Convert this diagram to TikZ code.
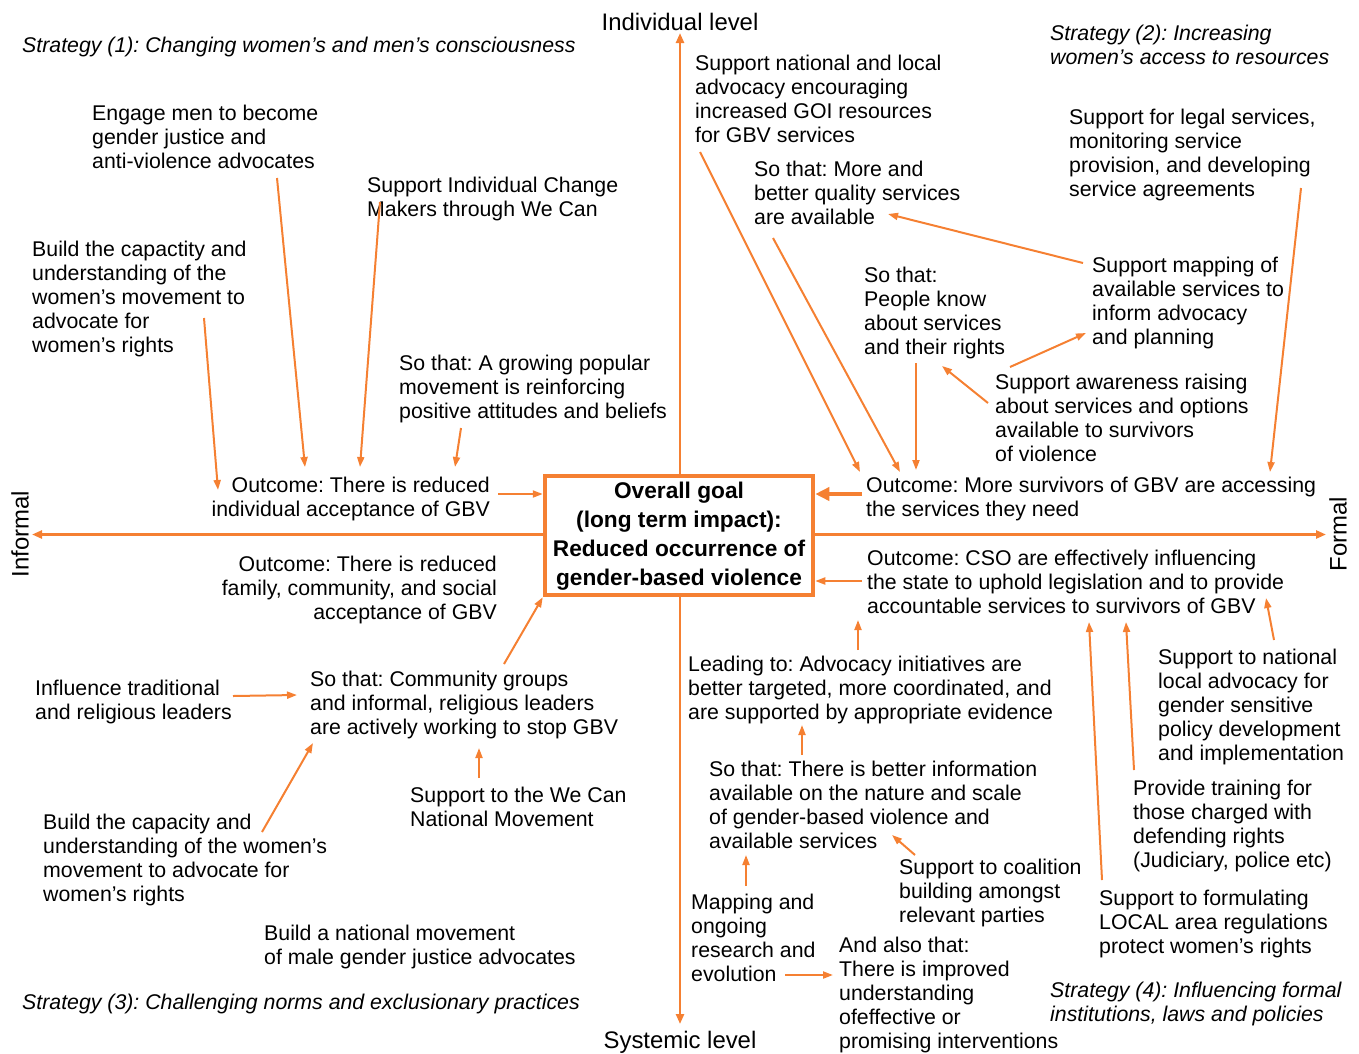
\documentclass[tikz,border=0pt]{standalone}
\usepackage{fontspec}
\setmainfont{Liberation Sans}
\usetikzlibrary{arrows.meta,calc}
\definecolor{org}{RGB}{245,128,50}
\tikzset{
  txt/.style={anchor=north west, align=left, inner sep=0pt, font=\fontsize{21.3}{24}\selectfont\frenchspacing},
  txtr/.style={anchor=north east, align=right, inner sep=0pt, font=\fontsize{21.3}{24}\selectfont\frenchspacing},
  strat/.style={anchor=north west, align=left, inner sep=0pt, font=\fontsize{21.3}{24}\selectfont\itshape\frenchspacing},
  axlab/.style={inner sep=0pt, font=\fontsize{23.9}{26}\selectfont},
  arr/.style={draw=org, line width=2pt, -{Triangle[length=10pt,width=7pt]}},
  bigarr/.style={draw=org, line width=4.5pt, -{Triangle[length=14pt,width=13pt]}},
  axis/.style={draw=org, line width=2.4pt, {Triangle[length=10pt,width=8pt]}-{Triangle[length=10pt,width=8pt]}},
  goalbox/.style={draw=org, fill=white, line width=4.5pt, minimum width=268pt, minimum height=119pt, align=center, inner sep=0pt, font=\fontsize{22.7}{29}\selectfont\bfseries},
}
\begin{document}
\frenchspacing
\begin{tikzpicture}[x=1pt,y=-1pt]
\path[use as bounding box] (0,0) rectangle (1359,1053);

% axes
\coordinate (axtop) at (680,33);
\coordinate (axbot) at (680,1024);
\coordinate (axleft) at (32,534.5);
\coordinate (axright) at (1326,534.5);
\draw[axis] (axbot) -- (axtop);
\draw[axis] (axleft) -- (axright);
\node[axlab] (ind) at (680,22) {Individual level};
\node[axlab] (sys) at (680,1042) {Systemic level};
\node[axlab, rotate=90] (informal) at (20,534) {Informal};
\node[axlab, rotate=90] (formal) at (1338,534) {Formal};

% central goal
\node[goalbox] (goal) at (679,535.5) {\rule{0pt}{18pt}Overall goal\\(long term impact):\\Reduced occurrence of\\gender-based violence};

% strategy labels
\node[strat] (s1) at (22,37) {Strategy (1): Changing women’s and men’s consciousness};
\node[strat] (s2) at (1050,25) {Strategy (2): Increasing\\women’s access to resources};
\node[strat] (s3) at (22,994) {Strategy (3): Challenging norms and exclusionary practices};
\node[strat] (s4) at (1050,982) {Strategy (4): Influencing formal\\institutions, laws and policies};

% quadrant 1 (top left)
\node[txt] (engage) at (92,105) {Engage men to become\\gender justice and\\anti-violence advocates};
\node[txt] (sic) at (367,177) {Support Individual Change\\Makers through We Can};
\node[txt] (build1) at (32,241) {Build the capactity and\\understanding of the\\women’s movement to\\advocate for\\women’s rights};
\node[txt] (sothat1) at (399,355) {So that: A growing popular\\movement is reinforcing\\positive attitudes and beliefs};
\node[txtr] (out1) at (490,477) {Outcome: There is reduced\\individual acceptance of GBV};

% quadrant 3 (bottom left)
\node[txtr] (out2) at (497,556) {Outcome: There is reduced\\family, community, and social\\acceptance of GBV};
\node[txt] (influence) at (35,680) {Influence traditional\\and religious leaders};
\node[txt] (sothat2) at (310,671) {So that: Community groups\\and informal, religious leaders\\are actively working to stop GBV};
\node[txt] (wecan) at (410,787) {Support to the We Can\\National Movement};
\node[txt] (build2) at (43,814) {Build the capacity and\\understanding of the women’s\\movement to advocate for\\women’s rights};
\node[txt] (natmov) at (264,925) {Build a national movement\\of male gender justice advocates};

% quadrant 2 (top right)
\node[txt] (snl) at (695,55) {Support national and local\\advocacy encouraging\\increased GOI resources\\for GBV services};
\node[txt] (legal) at (1069,109) {Support for legal services,\\monitoring service\\provision, and developing\\service agreements};
\node[txt] (sothat3) at (754,161) {So that: More and\\better quality services\\are available};
\node[txt] (mapping) at (1092,257) {Support mapping of\\available services to\\inform advocacy\\and planning};
\node[txt] (sothat4) at (864,267) {So that:\\People know\\about services\\and their rights};
\node[txt] (awareness) at (995,374) {Support awareness raising\\about services and options\\available to survivors\\of violence};
\node[txt] (out3) at (866,477) {Outcome: More survivors of GBV are accessing\\the services they need};

% quadrant 4 (bottom right)
\node[txt] (out4) at (867,550) {Outcome: CSO are effectively influencing\\the state to uphold legislation and to provide\\accountable services to survivors of GBV};
\node[txt] (natloc) at (1158,649) {Support to national\\local advocacy for\\gender sensitive\\policy development\\and implementation};
\node[txt] (leading) at (688,656) {Leading to: Advocacy initiatives are\\better targeted, more coordinated, and\\are supported by appropriate evidence};
\node[txt] (training) at (1133,780) {Provide training for\\those charged with\\defending rights\\(Judiciary, police etc)};
\node[txt] (sothat5) at (709,761) {So that: There is better information\\available on the nature and scale\\of gender-based violence and\\available services};
\node[txt] (coalition) at (899,859) {Support to coalition\\building amongst\\relevant parties};
\node[txt] (formulating) at (1099,890) {Support to formulating\\LOCAL area regulations\\protect women’s rights};
\node[txt] (mapres) at (691,894) {Mapping and\\ongoing\\research and\\evolution};
\node[txt] (alsothat) at (839,937) {And also that:\\There is improved\\understanding\\ofeffective or\\promising interventions};

% connectors, quadrant 1
\draw[arr] ($(engage.north west)+(185,73)$) -- ($(out1.north east)+(-185,-10)$);
\draw[arr] ($(sic.north west)+(13,25)$) -- ($(out1.north east)+(-130,-10)$);
\draw[arr] ($(build1.north west)+(172,77)$) -- ($(out1.north east)+(-272,13)$);
\draw[arr] ($(sothat1.north west)+(62,73)$) -- ($(out1.north east)+(-35,-10)$);
\draw[arr] ($(out1.north east)+(8,17)$) -- ($(goal.west)+(0,-41.5)$);

% connectors, quadrant 3
\draw[arr] ($(sothat2.north west)+(194,-7)$) -- (goal.south west);
\draw[arr] ($(influence.north west)+(198,16)$) -- ($(sothat2.north west)+(-13,24)$);
\draw[arr] ($(wecan.north west)+(69,-9)$) -- ($(sothat2.north west)+(169,77)$);
\draw[arr] ($(build2.north west)+(219,18)$) -- ($(sothat2.north west)+(3,72)$);

% connectors, quadrant 2
\draw[arr] ($(snl.north west)+(5,97)$) -- ($(out3.north west)+(-6,-5)$);
\draw[arr] ($(sothat3.north west)+(19,77)$) -- ($(out3.north west)+(34,-5)$);
\draw[arr] ($(mapping.north west)+(-9,6)$) -- ($(sothat3.north west)+(134,53)$);
\draw[arr] ($(sothat4.north west)+(52,96)$) -- ($(out3.north west)+(50,-7)$);
\draw[arr] ($(awareness.north west)+(-7,29)$) -- ($(sothat4.north west)+(78,99)$);
\draw[arr] ($(awareness.north west)+(15,-7)$) -- ($(mapping.north west)+(-6,76)$);
\draw[arr] ($(legal.north west)+(232,79)$) -- ($(out3.north west)+(404,-5)$);
\draw[bigarr] ($(out3.north west)+(-4,17)$) -- ($(goal.east)+(0,-41.5)$);

% connectors, quadrant 4
\draw[arr] ($(out4.north west)+(-5,31)$) -- ($(goal.east)+(0,45.5)$);
\draw[arr] ($(leading.north west)+(170,-6)$) -- ($(out4.north west)+(-9,70)$);
\draw[arr] ($(natloc.north west)+(116,-9)$) -- ($(out4.north west)+(399,48)$);
\draw[arr] ($(training.north west)+(1,-10)$) -- ($(out4.north west)+(259,72)$);
\draw[arr] ($(formulating.north west)+(3,-10)$) -- ($(out4.north west)+(222,72)$);
\draw[arr] ($(sothat5.north west)+(93,-6)$) -- ($(leading.north west)+(114,69)$);
\draw[arr] ($(coalition.north west)+(16,-4)$) -- ($(sothat5.north west)+(183,74)$);
\draw[arr] ($(mapres.north west)+(55,-8)$) -- ($(sothat5.north west)+(37,94)$);
\draw[arr] ($(mapres.north west)+(94,81)$) -- ($(alsothat.north west)+(-6,38)$);
\end{tikzpicture}
\end{document}
